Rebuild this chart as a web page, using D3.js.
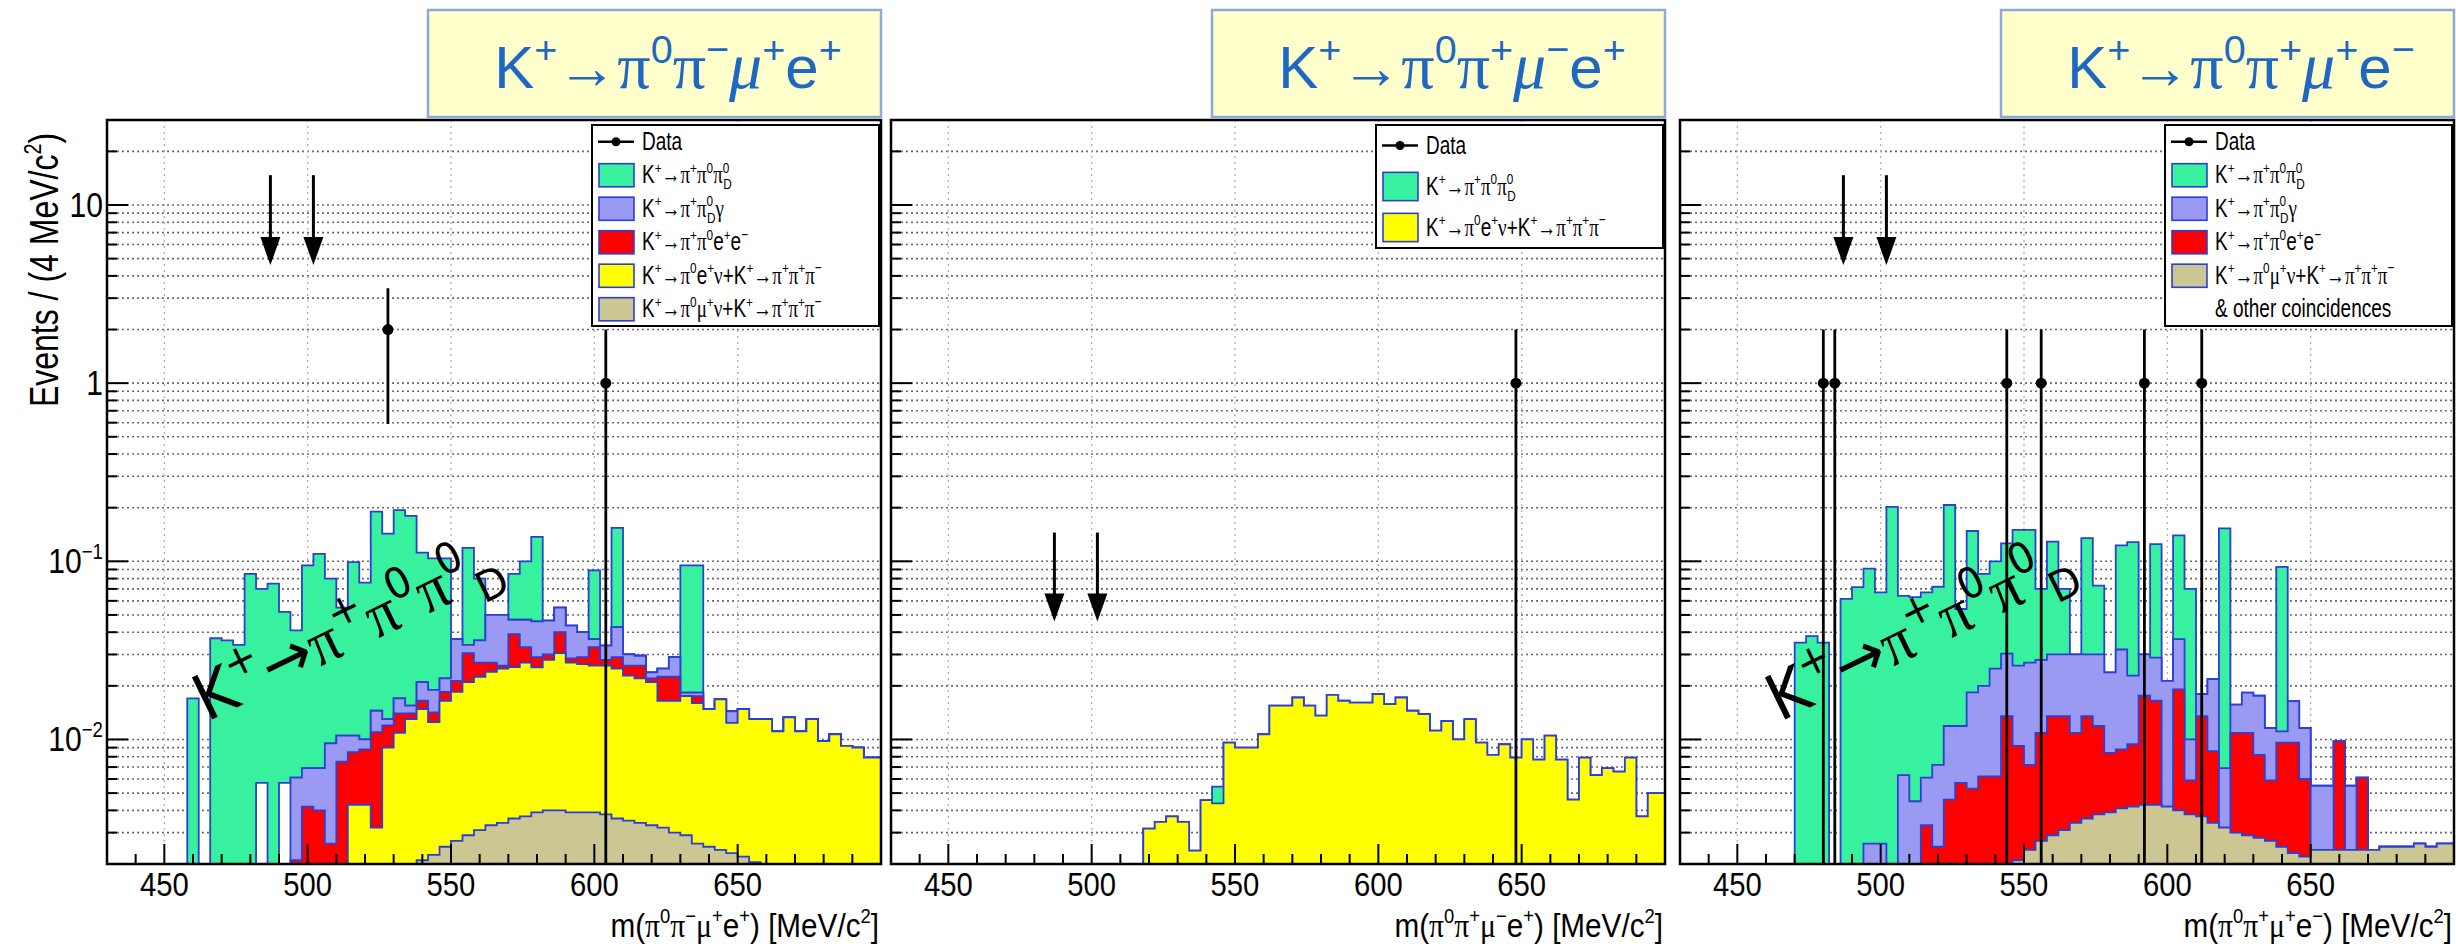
<!DOCTYPE html>
<html>
<head>
<meta charset="utf-8">
<script src="https://cdn.jsdelivr.net/npm/d3@7"></script>
<style>
  body { margin: 0; background: #fff; }
  svg { display: block; font-family: "Liberation Sans", Arial, sans-serif; }
</style>
</head>
<body>
<svg id="chart" width="2456" height="947"></svg>
<script>
// ---------------- data ----------------
// 4 MeV bins starting at 430 MeV, 68 bins; values are the stacked levels
// of each THStack layer (top layer first), 0 = layer empty in that bin
const binLo = 430, binW = 4;
const xDomain = [430, 700];
const yDomain = [0.002, 30];
const xMajor = [450, 500, 550, 600, 650];
const yMajor = [0.01, 0.1, 1, 10];
const yMajorLabels = ["10^{−2}", "10^{−1}", "1", "10"];

const titles = ["K^{+}→π^{0}π^{−}μ^{+}e^{+}", "K^{+}→π^{0}π^{+}μ^{−}e^{+}", "K^{+}→π^{0}π^{+}μ^{+}e^{−}"];
const xTitles = ["m(π^{0}π^{−}μ^{+}e^{+}) [MeV/c^{2}]", "m(π^{0}π^{+}μ^{−}e^{+}) [MeV/c^{2}]", "m(π^{0}π^{+}μ^{+}e^{−}) [MeV/c^{2}]"];
const yTitle = "Events / (4 MeV/c^{2})";
const annotation = "K^{+}→π^{+}π^{0}π^{0}_{D}";

const arrowMass = [487, 502];
const arrowFrom = [14.7, 0.145, 14.7];
const arrowTo = [4.6, 0.046, 4.6];

const p1DataM = [528, 604], p1DataN = [2, 1], p1ErrLo = [1.41, 1], p1ErrHi = [1.41, 1];
const p2DataM = [648], p2DataN = [1], p2ErrLo = [1], p2ErrHi = [1];
const p3DataM = [480, 484, 544, 556, 592, 612], p3DataN = [1, 1, 1, 1, 1, 1];
const p3ErrLo = [1, 1, 1, 1, 1, 1], p3ErrHi = [1, 1, 1, 1, 1, 1];

const p1Green = [0,0,0,0,0,0,0,.017,0,.037,
  .036,.034,.085,.070,.075,.052,.041,.095,.110,.080,
  .055,.099,.076,.190,.143,.194,.180,.112,.104,.104,
  0,.119,.080,0,0,.085,.100,.137,0,0,
  0,0,.089,0,.154,0,0,0,0,0,
  .095,.095,0,0,0,0,0,0,0,0,
  0,0,0,0,0,0,0,0];
const p1Gap = [0,0,0,0,0,0,0,0,0,0,
  0,0,0,.0057,0,.0057,0,0,0,0,
  0,0,0,0,0,0,0,0,0,0, 0,0,0,0,0,0,0,0,0,0,
  0,0,0,0,0,0,0,0,0,0, 0,0,0,0,0,0,0,0,0,0, 0,0,0,0,0,0,0,0];
const p1Lav = [0,0,0,0,0,0,0,0,0,0,
  0,0,0,0,0,0,.0061,.0069,.0069,.0095,
  .0105,.0105,.0100,.0145,.0130,.0170,.0155,.0210,.0190,.0220,
  .0366,.0340,.0360,.0500,.0500,.0470,.0470,.0460,.0465,.0550,
  .0435,.0400,.0366,.0336,.0427,.0300,.0295,.0238,.0250,.0290,
  .0183,.0183,0,0,.0144,0,0,0,0,0,
  0,0,0,0,0,0,0,0];
const p1Red = [0,0,0,0,0,0,0,0,0,0,
  0,0,0,0,0,0,.0021,.0042,.0040,.0026,
  .0075,.0085,.0088,.0110,.0120,.0140,.0140,.0165,.0142,.0185,
  .0213,.0305,.0270,.0270,.0260,.0390,.0330,.0290,.0300,.0400,
  .0285,.0290,.0330,.0280,.0290,.0260,.0260,.0220,.0225,.0225,
  .0175,.0175,0,0,0,0,0,0,0,0,
  0,0,0,0,0,0,0,0];
const p1Yel = [0,0,0,0,0,0,0,0,0,0,
  0,0,0,0,0,0,0,0,0,0,
  0,.0043,.0043,.0032,.0090,.0109,.0130,.0148,.0125,.0165,
  .0185,.0210,.0225,.0240,.0250,.0255,.0270,.0254,.0280,.0305,
  .0270,.0265,.0260,.0260,.0250,.0228,.0220,.0210,.0165,.0165,
  .0175,.0160,.0148,.0168,.0124,.0148,.0130,.0130,.0111,.0133,
  .0111,.0130,.0098,.0107,.0092,.0090,.0079,.0079];
const p1Tan = [0,0,0,0,0,0,0,0,0,0,
  0,0,0,0,0,0,0,0,0,0,
  0,0,0,0,0,0,0,.0021,.00225,.0025,
  .0027,.0029,.0031,.0033,.0034,.0036,.0037,.0039,.0040,.0040,
  .0039,.0039,.0039,.0038,.0036,.0035,.0034,.0033,.0032,.0030,
  .0029,.0026,.0025,.0024,.0023,.0022,.00205,.0020,0,0,
  0,0,0,0,0,0,0,0];

const p2Green = [0,0,0,0,0,0,0,0,0,0, 0,0,0,0,0,0,0,0,0,0,
  0,0,0,0,0,0,0,0,.00544,0, 0,0,0,0,0,0,0,0,0,0,
  0,0,0,0,0,0,0,0,0,0, 0,0,0,0,0,0,0,0,0,0, 0,0,0,0,0,0,0,0];
const p2Yel = [0,0,0,0,0,0,0,0,0,0,
  0,0,0,0,0,0,0,0,0,0,
  0,0,.00316,.00345,.0037,.00345,.00238,.00457,.00438,.0096,
  .0090,.0090,.0107,.0155,.0155,.0172,.0155,.0136,.0178,.0165,
  .0161,.0161,.0180,.0158,.0172,.0145,.0139,.0112,.0127,.0100,
  .0130,.0096,.0082,.0094,.0079,.0100,.0077,.0105,.0077,.0046,
  .0079,.0063,.0069,.0066,.0079,.0037,.0050,.0050];

const p3Green = [0,0,0,0,0,0,0,0,0,0,
  .035,.038,.035,0,.0616,.0717,.091,.067,.202,.064,
  .063,.067,.072,.207,.054,.148,.085,.100,.126,.150,
  .150,.070,.129,.070,0,.135,.073,0,.123,.128,
  0,.125,0,.140,.070,0,0,.153,0,0,
  0,0,.093,0,0,0,0,0,0,0,
  0,0,0,0,0,0,0,0];
const p3Lav = [0,0,0,0,0,0,0,0,0,0,
  0,0,0,0,0,0,.0026,.0026,0,.0063,
  .0045,.0061,.0072,.0119,.0119,.0184,.0200,.0250,.0303,.0260,
  .0270,.0280,.0300,.0300,.0300,.0300,.0300,.0238,.0320,.0228,
  .0300,.0288,.0213,.0366,.0100,.0180,.0218,.0069,.0157,.0183,
  .0176,.0116,.0111,.0164,.0116,.0055,.0055,0,.0055,0,
  0,0,0,0,0,0,0,0];
const p3Red = [0,0,0,0,0,0,0,0,0,0,
  0,0,0,0,0,0,0,0,0,0,
  0,.0033,.0025,.0046,.0057,.0053,.0062,.0062,.0135,.0092,
  .0072,.0109,.0135,.0135,.0109,.0135,.0119,.0084,.0088,.0094,
  .0176,.0165,0,.0191,.0059,.0135,.0086,0,.0109,.0109,
  .0082,.0059,.0096,.0096,.0060,0,0,.0098,0,.0061,
  0,0,0,0,0,0,0,0];
const p3Tan = [0,0,0,0,0,0,0,0,0,0,
  0,0,0,0,0,0,0,0,0,0,
  0,0,0,0,0,0,0,0,0,.0021,
  .0024,.0027,.0029,.0031,.0034,.0036,.0038,.0039,.0041,.0042,
  .0043,.0043,.0042,.0040,.0038,.0037,.0034,.0032,.0030,.0029,
  .0028,.0027,.0025,.0023,.0022,.0024,.0024,.0024,.0024,.0024,
  .0024,.0025,.0025,.0025,.0026,.0025,.0026,.0026];

const cGreen = "#38f19e", cLav = "#9a9af3", cRed = "#ff0000", cYel = "#ffff00",
      cTan = "#cbc692", cGap = "#ffffff", cLine = "#2b3fd6";

const lgGreen = "K^{+}→π^{+}π^{0}π^{0}_{D}";
const lgLav = "K^{+}→π^{+}π^{0}_{D}γ";
const lgRed = "K^{+}→π^{+}π^{0}e^{+}e^{−}";
const lgYel = "K^{+}→π^{0}e^{+}ν+K^{+}→π^{+}π^{+}π^{−}";
const lgTan = "K^{+}→π^{0}μ^{+}ν+K^{+}→π^{+}π^{+}π^{−}";

const panels = [
  { layers: [[p1Green, cGreen], [p1Gap, cGap], [p1Lav, cLav], [p1Red, cRed], [p1Yel, cYel], [p1Tan, cTan]],
    dataM: p1DataM, dataN: p1DataN, errLo: p1ErrLo, errHi: p1ErrHi,
    legend: [["Data", null], [lgGreen, cGreen], [lgLav, cLav], [lgRed, cRed], [lgYel, cYel], [lgTan, cTan]],
    legendH: 201, note: true, yLabels: true },
  { layers: [[p2Green, cGreen], [p2Yel, cYel]],
    dataM: p2DataM, dataN: p2DataN, errLo: p2ErrLo, errHi: p2ErrHi,
    legend: [["Data", null], [lgGreen, cGreen], [lgYel, cYel]],
    legendH: 123, note: false, yLabels: false },
  { layers: [[p3Green, cGreen], [p3Lav, cLav], [p3Red, cRed], [p3Tan, cTan]],
    dataM: p3DataM, dataN: p3DataN, errLo: p3ErrLo, errHi: p3ErrHi,
    legend: [["Data", null], [lgGreen, cGreen], [lgLav, cLav], [lgRed, cRed], [lgTan, cTan], ["& other coincidences", "none"]],
    legendH: 201, note: true, yLabels: false }
];

// ---------------- layout ----------------
const svg = d3.select("#chart");
const panelX = [107, 891, 1680];
const frameW = 774, frameTop = 120, frameBot = 864;
const y = d3.scaleLog().domain(yDomain).range([frameBot, frameTop]);
const yv = v => (v > yDomain[0] ? y(v) : frameBot);
const greek = "Liberation Serif, DejaVu Serif, serif";

// text with ^{sup} and _{sub}; condensed horizontally by sx like the ROOT fonts
function rich(parent, str, size, o) {
  o = o || {};
  const t = parent.append("text")
    .attr("transform", `translate(${o.x},${o.y}) rotate(${o.rot || 0}) scale(${o.sx || 1},1)`)
    .attr("font-size", size)
    .attr("text-anchor", o.anchor || "start")
    .attr("fill", o.fill || "#000");
  if (o.family) t.attr("font-family", o.family);
  const parts = str.split(/(\^\{[^}]*\}|_\{[^}]*\})/).filter(s => s.length);
  let shift = 0, prevKind = "n", prevW = 0;
  parts.forEach(p => {
    let kind = "n", s = p;
    if (p.startsWith("^{")) { kind = "sup"; s = p.slice(2, -1); }
    else if (p.startsWith("_{")) { kind = "sub"; s = p.slice(2, -1); }
    const target = kind === "sup" ? -0.42 * size : kind === "sub" ? 0.24 * size : 0;
    const fs = kind === "n" ? size : (o.supScale || 0.62) * size;
    const chunks = s.match(/[πμνγ]|[^πμνγ]+/g);
    chunks.forEach((c, i) => {
      const ts = t.append("tspan").text(c).attr("font-size", fs);
      if (i === 0) {
        ts.attr("dy", target - shift);
        shift = target;
        if (kind === "sub" && prevKind === "sup" && o.stack !== false) ts.attr("dx", -prevW);
      }
      if (/[πμνγ]/.test(c)) {
        ts.attr("font-family", greek);
        if (c === "μ" && o.italicMu) ts.attr("font-style", "italic");
        if (o.greekScale) ts.attr("font-size", fs * o.greekScale);
      }
    });
    prevKind = kind;
    prevW = fs * 0.52 * s.length;
  });
  return t;
}

panels.forEach((P, pi) => {
  const x0 = panelX[pi];
  const x = d3.scaleLinear().domain(xDomain).range([x0, x0 + frameW]);
  const g = svg.append("g");

  g.append("clipPath").attr("id", "clip" + pi)
    .append("rect").attr("x", x0).attr("y", frameTop)
    .attr("width", frameW).attr("height", frameBot - frameTop);

  // grid
  const yTicks = [];
  for (let d = -3; d <= 1; d++) for (let m = 1; m <= 9; m++) {
    const v = m * Math.pow(10, d);
    if (v > yDomain[0] * 1.001 && v < yDomain[1] * 0.999) yTicks.push({ v: v, major: m === 1 });
  }
  g.selectAll(".hgrid").data(yTicks).join("line")
    .attr("x1", x0).attr("x2", x0 + frameW)
    .attr("y1", d => y(d.v)).attr("y2", d => y(d.v))
    .attr("stroke", "#6a6a6a").attr("stroke-width", 1.6).attr("stroke-dasharray", "2,3");
  g.selectAll(".vgrid").data(xMajor).join("line")
    .attr("x1", d => x(d)).attr("x2", d => x(d))
    .attr("y1", frameTop).attr("y2", frameBot)
    .attr("stroke", "#b5b5b5").attr("stroke-width", 1.4).attr("stroke-dasharray", "2,4");

  // stacked histogram layers: cumulative levels, drawn top layer first
  const n = P.layers[0][0].length;
  const levels = P.layers.map(l => l[0].slice());
  for (let i = levels.length - 2; i >= 0; i--)
    for (let k = 0; k < n; k++) levels[i][k] = Math.max(levels[i][k], levels[i + 1][k]);

  const hist = g.append("g").attr("clip-path", "url(#clip" + pi + ")");
  levels.forEach((lv, i) => {
    const pts = lv.map((v, k) => [binLo + k * binW, v]);
    pts.push([binLo + n * binW, lv[n - 1]]);
    hist.append("path")
      .attr("d", d3.area().curve(d3.curveStepAfter)
        .x(d => x(d[0])).y0(frameBot).y1(d => yv(d[1]))(pts))
      .attr("fill", P.layers[i][1]);
    hist.append("path")
      .attr("d", d3.line().curve(d3.curveStepAfter)
        .x(d => x(d[0])).y(d => yv(d[1]))(pts))
      .attr("fill", "none").attr("stroke", cLine).attr("stroke-width", 1.8);
  });

  // data points
  P.dataM.forEach((m, i) => {
    const cx = x(m), v = P.dataN[i];
    g.append("line").attr("x1", cx).attr("x2", cx)
      .attr("y1", yv(v + P.errHi[i])).attr("y2", yv(v - P.errLo[i]))
      .attr("stroke", "#000").attr("stroke-width", 2.8);
    g.append("circle").attr("cx", cx).attr("cy", y(v)).attr("r", 5.5).attr("fill", "#000");
  });

  // arrows marking the signal region
  arrowMass.forEach(m => {
    const ax = x(m), yt = y(arrowFrom[pi]), yb = y(arrowTo[pi]);
    g.append("line").attr("x1", ax).attr("x2", ax).attr("y1", yt).attr("y2", yb - 20)
      .attr("stroke", "#000").attr("stroke-width", 3);
    g.append("path")
      .attr("d", `M${ax - 10},${yb - 28}L${ax + 10},${yb - 28}L${ax},${yb}Z`)
      .attr("fill", "#000");
  });

  // rotated annotation
  if (P.note) {
    rich(g, annotation, 64, { x: x0 + 100, y: 722, rot: -26, sx: 0.95,
      family: "DejaVu Sans, sans-serif", stack: false, supScale: 0.66 });
  }

  // frame and ticks
  g.append("rect").attr("x", x0).attr("y", frameTop)
    .attr("width", frameW).attr("height", frameBot - frameTop)
    .attr("fill", "none").attr("stroke", "#000").attr("stroke-width", 2.5);
  g.selectAll(".yt").data(yTicks).join("line")
    .attr("x1", x0).attr("x2", d => x0 + (d.major ? 21 : 10))
    .attr("y1", d => y(d.v)).attr("y2", d => y(d.v))
    .attr("stroke", "#000").attr("stroke-width", 2);
  const xTicks = d3.range(440, 700, 10);
  g.selectAll(".xt").data(xTicks).join("line")
    .attr("x1", d => x(d)).attr("x2", d => x(d))
    .attr("y1", frameBot).attr("y2", d => frameBot - (d % 50 === 0 ? 20 : 10))
    .attr("stroke", "#000").attr("stroke-width", 2);

  xMajor.forEach(v => rich(g, String(v), 34, { x: x(v), y: 896, sx: 0.86, anchor: "middle" }));

  if (P.yLabels) {
    yMajor.forEach((v, i) => rich(g, yMajorLabels[i], 35,
      { x: x0 - 4, y: y(v) + 12, sx: 0.86, anchor: "end" }));
    rich(g, yTitle, 40, { x: 58, y: 270, rot: -90, sx: 0.8, anchor: "middle" });
  }

  rich(g, xTitles[pi], 33, { x: x0 + frameW - 2, y: 937, sx: 0.9, anchor: "end" });

  // title box
  const bx = x0 + 321;
  g.append("rect").attr("x", bx).attr("y", 10).attr("width", 453).attr("height", 107)
    .attr("fill", "#ffffcc").attr("stroke", "#8fa8d6").attr("stroke-width", 2.5);
  rich(g, titles[pi], 60, { x: bx + 240, y: 88, anchor: "middle", fill: "#1f68c2",
    italicMu: true, supScale: 0.66, greekScale: 1.1 });

  // legend
  const lx = x0 + 485, ly = 125, lw = 287, lh = P.legendH;
  const pitch = lh / P.legend.length;
  const lg = g.append("g");
  lg.append("rect").attr("x", lx).attr("y", ly).attr("width", lw).attr("height", lh)
    .attr("fill", "#fff").attr("stroke", "#000").attr("stroke-width", 2);
  P.legend.forEach((e, i) => {
    const cy = ly + pitch * (i + 0.5);
    if (e[1] === null) {
      lg.append("line").attr("x1", lx + 6).attr("x2", lx + 42).attr("y1", cy).attr("y2", cy)
        .attr("stroke", "#000").attr("stroke-width", 2.5);
      lg.append("circle").attr("cx", lx + 24).attr("cy", cy).attr("r", 4.5).attr("fill", "#000");
    } else if (e[1] !== "none") {
      const sh = pitch * 0.69;
      lg.append("rect").attr("x", lx + 7).attr("y", cy - sh / 2).attr("width", 35).attr("height", sh)
        .attr("fill", e[1]).attr("stroke", cLine).attr("stroke-width", 1.6);
    }
    rich(lg, e[0], 25, { x: lx + 50, y: cy + 8, sx: 0.76 });
  });
});
</script>
</body>
</html>
